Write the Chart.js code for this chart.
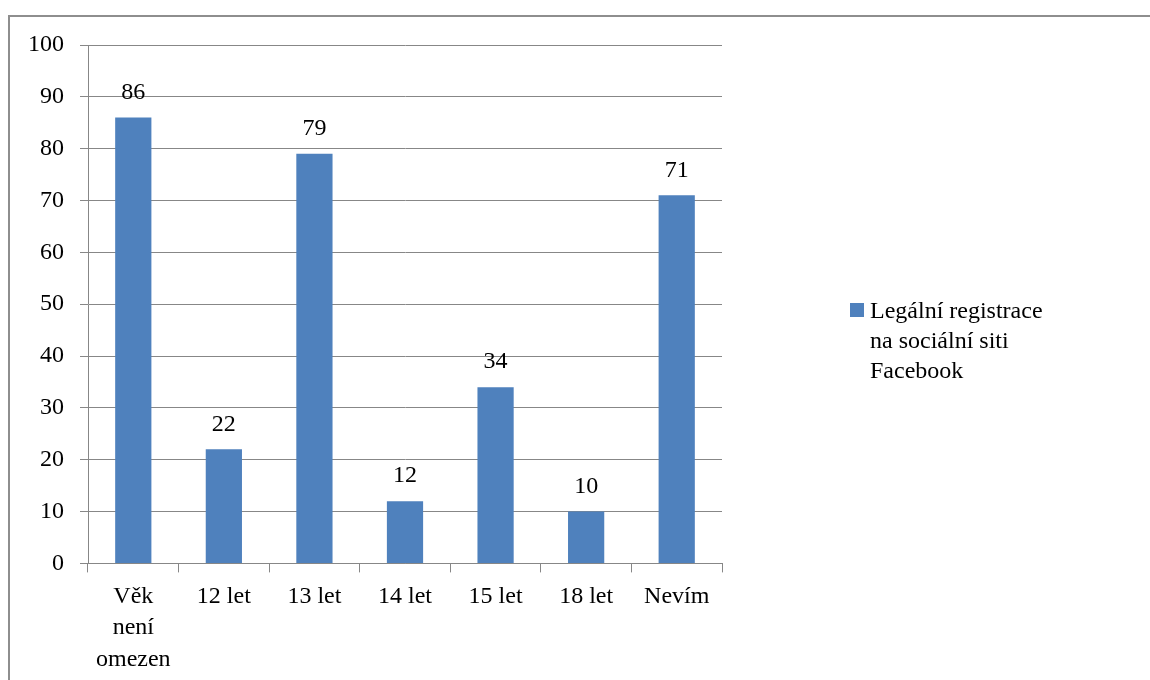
<!DOCTYPE html>
<html>
<head>
<meta charset="utf-8">
<script src="https://cdn.jsdelivr.net/npm/chart.js@4/dist/chart.umd.min.js"></script>
<style>
  html, body { margin: 0; padding: 0; background: #fff; overflow: hidden; }
  #wrap { position: relative; width: 1150px; height: 680px; }
  #frame { position: absolute; left: 8px; top: 15px; width: 1200px; height: 700px; border: 2px solid #8e8e8e; box-sizing: border-box; }
  canvas { position: absolute; left: 0; top: 0; }
</style>
</head>
<body>
<div id="wrap">
  <div id="frame"></div>
  <canvas id="chart" width="1150" height="680"></canvas>
</div>
<script>
// Data
const categories = [["Věk", "není", "omezen"], "12 let", "13 let", "14 let", "15 let", "18 let", "Nevím"]
const values = [86, 22, 79, 12, 34, 10, 71]
const seriesName = ["Legální registrace", "na sociální siti", "Facebook"]
const yMin = 0
const yMax = 100
const yStep = 10

const FONT = '"Liberation Serif", "Times New Roman", serif'
const GRID = "#878787"
const BAR = "#4f81bd"

// Value labels above bars
const valueLabels = {
  id: "valueLabels",
  afterDatasetsDraw(chart) {
    const ctx = chart.ctx
    const meta = chart.getDatasetMeta(0)
    ctx.save()
    ctx.font = "24px " + FONT
    ctx.fillStyle = "#000"
    ctx.textAlign = "center"
    ctx.textBaseline = "middle"
    meta.data.forEach((bar, i) => {
      ctx.fillText(String(values[i]), bar.x, bar.y - 25)
    })
    ctx.restore()
  },
}

// Legend on the right
const sideLegend = {
  id: "sideLegend",
  afterDraw(chart) {
    const ctx = chart.ctx
    const area = chart.chartArea
    const x = area.right + 128
    const y = 303
    ctx.save()
    ctx.fillStyle = BAR
    ctx.fillRect(x, y, 14, 14)
    ctx.font = "24px " + FONT
    ctx.fillStyle = "#000"
    ctx.textAlign = "left"
    ctx.textBaseline = "middle"
    seriesName.forEach((line, i) => {
      ctx.fillText(line, x + 20, y + 9 + i * 30)
    })
    ctx.restore()
  },
}

new Chart(document.getElementById("chart").getContext("2d"), {
  type: "bar",
  data: {
    labels: categories,
    datasets: [
      {
        label: seriesName.join(" "),
        data: values,
        backgroundColor: BAR,
        borderWidth: 0,
        categoryPercentage: 1,
        barPercentage: 0.4,
      },
    ],
  },
  options: {
    responsive: false,
    animation: false,
    devicePixelRatio: 1,
    layout: { padding: { left: 12, top: 45, right: 428, bottom: -4 } },
    plugins: {
      legend: { display: false },
      tooltip: { enabled: false },
    },
    scales: {
      x: {
        grid: { display: true, drawOnChartArea: false, drawTicks: true, tickLength: 9, color: GRID, offset: true },
        border: { display: true, color: GRID, width: 1 },
        ticks: { color: "#000", font: { family: FONT, size: 24, lineHeight: 1.3 }, padding: 9, maxRotation: 0, autoSkip: false },
      },
      y: {
        min: yMin,
        max: yMax,
        grid: { color: GRID, lineWidth: 1, tickLength: 8 },
        border: { display: true, color: GRID, width: 1 },
        ticks: { stepSize: yStep, color: "#000", font: { family: FONT, size: 24 }, padding: 16 },
      },
    },
  },
  plugins: [valueLabels, sideLegend],
})
</script>
</body>
</html>
